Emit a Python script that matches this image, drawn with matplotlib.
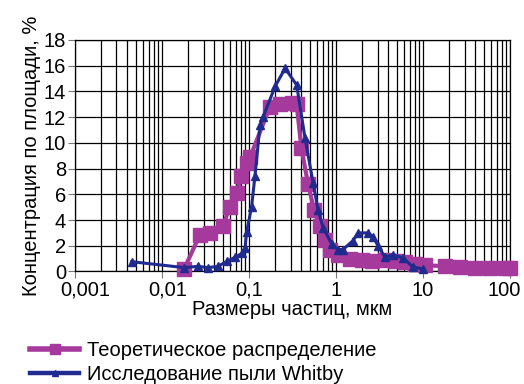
import matplotlib
matplotlib.use("Agg")
import matplotlib.pyplot as plt
from matplotlib import font_manager
from matplotlib.transforms import ScaledTranslation
from matplotlib.ticker import LogLocator, NullFormatter

# Prefer a narrow sans face when one is installed
narrow = None
for fam in ['Liberation Sans Narrow', 'DejaVu Sans Condensed']:
    try:
        path = font_manager.findfont(fam, fallback_to_default=False)
        if 'Narrow' in path or 'Condensed' in path:
            narrow = fam
            break
    except Exception:
        pass
plt.rcParams['font.family'] = ([narrow] if narrow else []) + ['Liberation Sans', 'DejaVu Sans']
FS = 16 if narrow else 14.5

# Theoretical distribution (particle size in um, area concentration in %)
theory_x = [0.018, 0.027, 0.036, 0.05, 0.06, 0.072, 0.082, 0.094, 0.103,
            0.174, 0.227, 0.31, 0.353, 0.40, 0.477, 0.56, 0.655, 0.75, 0.853,
            1.05, 1.45, 1.99, 2.6, 3.66, 4.76, 6.2, 8.1, 10.5, 17.9, 26.6,
            39.6, 58.9, 87.7, 100]
theory_y = [0.2, 2.8, 3.0, 3.5, 5.0, 6.1, 7.4, 8.4, 8.9,
            12.8, 13.0, 13.1, 13.0, 9.6, 6.8, 4.8, 3.5, 2.45, 1.7,
            1.3, 1.0, 0.9, 0.8, 0.9, 0.8, 0.7, 0.6, 0.5, 0.4, 0.35,
            0.3, 0.3, 0.3, 0.3]

# Whitby dust measurements
whitby_x = [0.0045, 0.018, 0.026, 0.0338, 0.044, 0.056, 0.069, 0.0824, 0.090,
            0.094, 0.107, 0.117, 0.134, 0.145, 0.20, 0.26, 0.353, 0.44, 0.545,
            0.621, 0.71, 0.90, 1.05, 1.20, 1.57, 1.79, 2.33, 2.66, 3.04, 3.66,
            4.52, 5.89, 7.67, 10.0]
whitby_y = [0.76, 0.3, 0.4, 0.3, 0.4, 0.8, 1.1, 1.4, 1.8,
            3.1, 5.0, 7.4, 11.4, 12.0, 14.4, 15.8, 14.5, 10.4, 6.9,
            4.8, 3.4, 2.1, 1.7, 1.7, 2.4, 3.0, 3.0, 2.7, 2.0, 1.1,
            1.3, 1.05, 0.35, 0.2]

x_ticks = [0.001, 0.01, 0.1, 1, 10, 100]
x_tick_labels = ['0,001', '0,01', '0,1', '1', '10', '100']
y_ticks = list(range(0, 19, 2))

MAGENTA = '#A63A9C'
BLUE = '#1F2B8E'

fig = plt.figure(figsize=(5.24, 3.84), dpi=100)
ax = fig.add_axes([0.1431, 0.2930, 0.8302, 0.6029])

ax.plot(theory_x, theory_y, color=MAGENTA, lw=3.0, marker='s', ms=9.5,
        mec=MAGENTA, mfc=MAGENTA, label='Теоретическое распределение',
        zorder=3, clip_on=False)
ax.plot(whitby_x, whitby_y, color=BLUE, lw=2.2, marker='^', ms=6,
        mec=BLUE, mfc=BLUE, label='Исследование пыли Whitby',
        zorder=4, clip_on=False)

ax.set_xscale('log')
ax.set_xlim(0.001, 100)
ax.set_ylim(0, 18)
ax.set_xticks(x_ticks)
ax.set_xticklabels(x_tick_labels)
ax.xaxis.set_minor_locator(LogLocator(base=10, subs=range(2, 10), numticks=50))
ax.xaxis.set_minor_formatter(NullFormatter())
ax.set_yticks(y_ticks)

ax.grid(True, which='major', color='black', lw=0.9)
ax.grid(True, which='minor', axis='x', color='black', lw=0.9)
ax.set_axisbelow(True)

ax.tick_params(axis='both', which='major', labelsize=FS, length=5,
               width=0.8, color='#777777', pad=1.5)
ax.tick_params(axis='x', which='minor', length=0)
for s in ax.spines.values():
    s.set_color('black')
    s.set_linewidth(0.9)

# nudge the end labels so they stay clear of the y labels and the figure edge
xlabels = ax.get_xticklabels()
for lbl, dx in [(xlabels[0], 10), (xlabels[1], 6), (xlabels[-1], -6)]:
    lbl.set_transform(lbl.get_transform() +
                      ScaledTranslation(dx / 100, 0, fig.dpi_scale_trans))

ax.set_xlabel('Размеры частиц, мкм', fontsize=FS, labelpad=0)
ax.set_ylabel('Концентрация по площади, %', fontsize=FS, labelpad=2)

handles, labels = ax.get_legend_handles_labels()
leg = fig.legend(handles, labels, loc='upper left', bbox_to_anchor=(0.058, 0.113),
                 frameon=False, fontsize=FS, handlelength=2.4, handletextpad=0.4,
                 labelspacing=0.25, borderaxespad=0, borderpad=0, markerscale=0.75)
for h, w in zip(leg.legend_handles, [4.0, 3.2]):
    h.set_linewidth(w)

fig.savefig('out.png', dpi=100)
